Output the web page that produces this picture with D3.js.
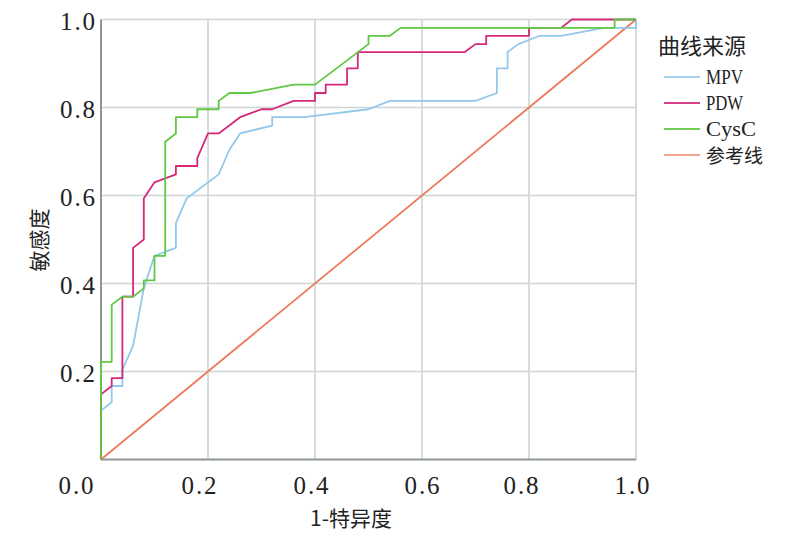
<!DOCTYPE html>
<html><head><meta charset="utf-8">
<script src="https://cdn.jsdelivr.net/npm/d3@7"></script>
<style>body{margin:0;background:#fff}svg{display:block}</style>
</head><body><svg id="c" width="798" height="543"></svg>
<script>
const tickValues = [0, 0.2, 0.4, 0.6, 0.8, 1.0];
const tickLabels = ["0.0", "0.2", "0.4", "0.6", "0.8", "1.0"];
const seriesNames = ["MPV", "PDW", "CysC", "参考线"];
const mpv = [[0,0],[0,0.111],[0.02,0.130],[0.02,0.167],[0.04,0.167],[0.04,0.204],[0.06,0.259],[0.08,0.389],[0.10,0.463],[0.14,0.481],[0.14,0.537],[0.16,0.593],[0.22,0.648],[0.24,0.704],[0.26,0.741],[0.32,0.759],[0.32,0.778],[0.38,0.778],[0.50,0.796],[0.54,0.815],[0.70,0.815],[0.74,0.833],[0.74,0.889],[0.76,0.889],[0.76,0.926],[0.78,0.944],[0.82,0.963],[0.86,0.963],[0.94,0.981],[1,0.981],[1,1]];
const pdw = [[0,0],[0,0.148],[0.02,0.167],[0.02,0.185],[0.04,0.185],[0.04,0.370],[0.06,0.370],[0.06,0.481],[0.08,0.500],[0.08,0.593],[0.10,0.630],[0.14,0.648],[0.14,0.667],[0.18,0.667],[0.18,0.685],[0.20,0.741],[0.22,0.741],[0.26,0.778],[0.30,0.796],[0.32,0.796],[0.36,0.815],[0.40,0.815],[0.40,0.833],[0.42,0.833],[0.42,0.852],[0.46,0.852],[0.46,0.889],[0.48,0.889],[0.48,0.926],[0.68,0.926],[0.70,0.944],[0.72,0.944],[0.72,0.963],[0.80,0.963],[0.80,0.981],[0.86,0.981],[0.88,1],[1,1]];
const cysc = [[0,0],[0,0.222],[0.02,0.222],[0.02,0.352],[0.04,0.370],[0.06,0.370],[0.08,0.389],[0.08,0.407],[0.10,0.407],[0.10,0.463],[0.12,0.463],[0.12,0.722],[0.14,0.741],[0.14,0.778],[0.18,0.778],[0.18,0.796],[0.22,0.796],[0.22,0.815],[0.24,0.833],[0.28,0.833],[0.36,0.852],[0.40,0.852],[0.50,0.944],[0.50,0.963],[0.54,0.963],[0.56,0.981],[0.96,0.981],[0.96,1],[1,1]];
const reference = [[0,0],[1,1]];

const colors = ["#93c8ec", "#d4297b", "#60c844", "#ec7b5e"];
const legendColors = ["#a6d2ef", "#d8408a", "#74cf58", "#f1a490"];
const allSeries = [mpv, pdw, cysc, reference];

const svg = d3.select("#c");
const L = 101, R = 636, T = 19.5, B = 459.5;
const x = d3.scaleLinear().domain([0, 1]).range([L, R]);
const y = d3.scaleLinear().domain([0, 1]).range([B, T]);

const numFont = "'Liberation Serif', 'DejaVu Serif', serif";
const cjkFont = "'Noto Sans CJK SC', sans-serif";

// gridlines
const grid = svg.append("g");
grid.selectAll("line.v").data(tickValues.slice(1)).join("line")
  .attr("x1", d => x(d)).attr("x2", d => x(d)).attr("y1", y(0)).attr("y2", y(1))
  .attr("stroke", "#cdd5d5").attr("stroke-width", 1.6);
grid.selectAll("line.h").data(tickValues.slice(1)).join("line")
  .attr("y1", d => y(d)).attr("y2", d => y(d)).attr("x1", x(0)).attr("x2", x(1))
  .attr("stroke", "#cdd5d5").attr("stroke-width", 1.6);

// axes lines
svg.append("line").attr("x1", x(0)).attr("x2", x(1)).attr("y1", y(0)).attr("y2", y(0))
  .attr("stroke", "#8e9696").attr("stroke-width", 2);
svg.append("line").attr("x1", x(0)).attr("x2", x(0)).attr("y1", y(0)).attr("y2", y(1))
  .attr("stroke", "#8e9696").attr("stroke-width", 2);

// x tick labels (label centres sit slightly left of their gridlines in the reference)
const xShift = [-25, -9, -4, 0, -8, -4];
svg.append("g").selectAll("text").data(tickValues).join("text")
  .attr("x", (d, i) => x(d) + xShift[i] - 17.5).attr("y", 494)
  .attr("font-family", numFont).attr("font-size", 25)
  .attr("textLength", 35).attr("lengthAdjust", "spacing")
  .attr("fill", "#222")
  .text((d, i) => tickLabels[i]);

// y tick labels
svg.append("g").selectAll("text").data(tickValues.slice(1)).join("text")
  .attr("x", 60).attr("y", d => y(d) + 10)
  .attr("font-family", numFont).attr("font-size", 25)
  .attr("textLength", 35).attr("lengthAdjust", "spacing")
  .attr("fill", "#222")
  .text(d => tickLabels[tickValues.indexOf(d)]);

// axis titles
svg.append("text").attr("x", 351).attr("y", 526).attr("text-anchor", "middle")
  .attr("font-family", cjkFont).attr("font-size", 21).attr("fill", "#222").text("1-特异度");
svg.append("text").attr("transform", "translate(47,240) rotate(-90)").attr("text-anchor", "middle")
  .attr("font-family", cjkFont).attr("font-size", 21).attr("fill", "#222").text("敏感度");

// lines
const line = d3.line().x(d => x(d[0])).y(d => y(d[1]));
const drawOrder = [3, 0, 1, 2];
svg.append("g").selectAll("path").data(drawOrder).join("path")
  .attr("d", i => line(allSeries[i]))
  .attr("fill", "none").attr("stroke", i => colors[i])
  .attr("stroke-width", 1.8).attr("stroke-linejoin", "round");

// legend
svg.append("text").attr("x", 658).attr("y", 54)
  .attr("font-family", cjkFont).attr("font-size", 22).attr("fill", "#222").text("曲线来源");
const lg = svg.append("g").selectAll("g").data(seriesNames).join("g")
  .attr("transform", (d, i) => `translate(0,${77 + i * 26})`);
lg.append("line").attr("x1", 664).attr("x2", 700).attr("y1", 0).attr("y2", 0)
  .attr("stroke", (d, i) => legendColors[i]).attr("stroke-width", 2);
const legendLen = [37, 37, 50, null];
lg.append("text").attr("x", 706).attr("y", (d, i) => i < 3 ? 7 : 8)
  .attr("font-family", (d, i) => i < 3 ? numFont : cjkFont)
  .attr("font-size", (d, i) => i < 3 ? 22 : 19)
  .attr("fill", "#222")
  .each(function(d, i) { if (legendLen[i]) d3.select(this).attr("textLength", legendLen[i]).attr("lengthAdjust", "spacingAndGlyphs"); })
  .text(d => d);
</script></body></html>
